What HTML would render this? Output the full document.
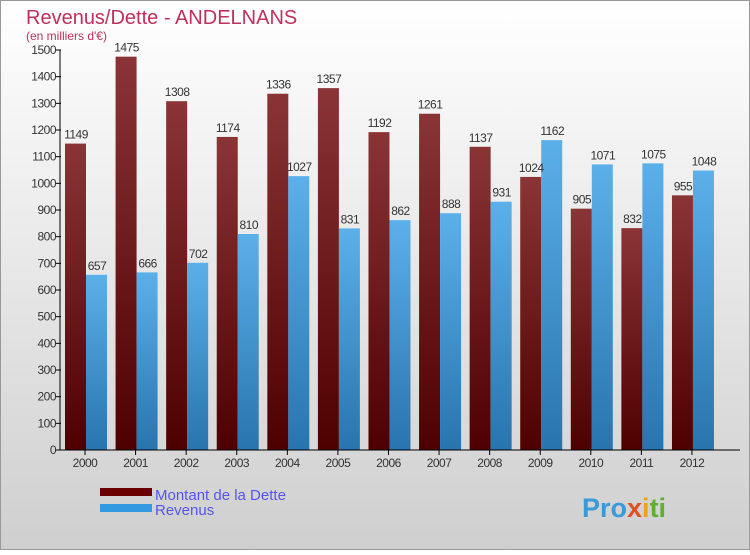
<!DOCTYPE html>
<html><head><meta charset="utf-8"><style>
body{margin:0;width:750px;height:550px;overflow:hidden;font-family:"Liberation Sans",sans-serif}
</style></head><body>
<svg width="750" height="550" xmlns="http://www.w3.org/2000/svg">
<defs>
<linearGradient id="bg" x1="0" y1="0" x2="0" y2="1"><stop offset="0" stop-color="#ffffff"/><stop offset="1" stop-color="#cfcfcf"/></linearGradient>
<linearGradient id="gd" x1="0" y1="0" x2="0" y2="1"><stop offset="0" stop-color="#8a3436"/><stop offset="1" stop-color="#4e0000"/></linearGradient>
<linearGradient id="gr" x1="0" y1="0" x2="0" y2="1"><stop offset="0" stop-color="#5cb0ea"/><stop offset="1" stop-color="#2874ae"/></linearGradient>
</defs>
<rect x="0.5" y="0.5" width="749" height="549" fill="url(#bg)" stroke="#999"/>
<text x="26" y="24" font-size="20" fill="#c0305a">Revenus/Dette - ANDELNANS</text>
<text x="26" y="40" font-size="12" fill="#c0305a">(en milliers d'€)</text>
<g id="plot"></g>
<rect x="100" y="488" width="52" height="8" fill="#6a0000"/>
<text x="155" y="500" font-size="15" fill="#5555ee">Montant de la Dette</text>
<rect x="100" y="504" width="52" height="8" fill="#3399e0"/>
<text x="155" y="515" font-size="15" fill="#5555ee">Revenus</text>
<text x="582" y="517" font-size="27" font-weight="bold" fill="#3a9ad8">Pro<tspan fill="#e05020">x</tspan><tspan fill="#f0a020">i</tspan><tspan fill="#60b030">ti</tspan></text>
</svg>
<script>
const years=["2000","2001","2002","2003","2004","2005","2006","2007","2008","2009","2010","2011","2012"];
const dette=[1149,1475,1308,1174,1336,1357,1192,1261,1137,1024,905,832,955];
const revenus=[657,666,702,810,1027,831,862,888,931,1162,1071,1075,1048];
const ticks=[0,100,200,300,400,500,600,700,800,900,1000,1100,1200,1300,1400,1500];
const NS="http://www.w3.org/2000/svg";
const g=document.getElementById("plot");
const y0=450,ymax=1500,ph=400;
const yS=v=>y0-v/ymax*ph;
const xC=i=>85+i*50.58;
function mk(t,a,txt){const e=document.createElementNS(NS,t);for(const k in a)e.setAttribute(k,a[k]);if(txt!==undefined)e.textContent=txt;g.appendChild(e);return e;}
ticks.forEach(t=>{
 const l=mk("line",{x1:56,x2:61,y1:yS(t),y2:yS(t),stroke:"#000"});
 
 
 const tx=mk("text",{x:56,y:yS(t)+4,"font-size":12,"text-anchor":"end",fill:"#333","letter-spacing":"-0.5"},t);
 
 
});
years.forEach((yr,i)=>{
 const c=xC(i);
 const b1=mk("rect",{x:c-20,y:yS(dette[i]),width:21,height:y0-yS(dette[i]),fill:"url(#gd)"});
 
 
 const b2=mk("rect",{x:c+1,y:yS(revenus[i]),width:21,height:y0-yS(revenus[i]),fill:"url(#gr)"});
 
 
 const l1=mk("text",{x:c-9,y:yS(dette[i])-5,"font-size":12,"text-anchor":"middle",fill:"#333","letter-spacing":"-0.5"},dette[i]);
 
 
 const l2=mk("text",{x:c+12,y:yS(revenus[i])-5,"font-size":12,"text-anchor":"middle",fill:"#333","letter-spacing":"-0.5"},revenus[i]);
 
 
 const tk=mk("line",{x1:c,x2:c,y1:450,y2:455,stroke:"#000"});
 
 
 const xl=mk("text",{x:c,y:467,"font-size":12,"text-anchor":"middle",fill:"#333","letter-spacing":"-0.5"},yr);
 
 
});
const ya=mk("line",{x1:60,x2:60,y1:50,y2:450,stroke:"#000"});


const xa=mk("line",{x1:60,x2:740,y1:450,y2:450,stroke:"#000"});


</script>
</body></html>
